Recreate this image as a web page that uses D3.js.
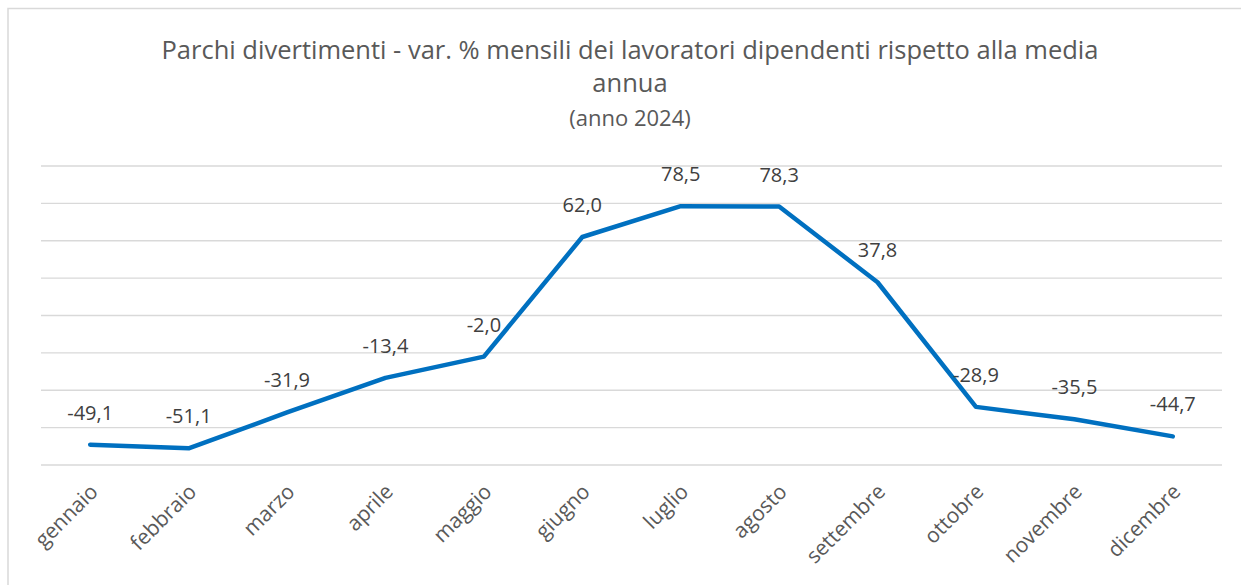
<!DOCTYPE html>
<html>
<head>
<meta charset="utf-8">
<script src="https://cdn.jsdelivr.net/npm/d3@7"></script>
<style>
  body { margin: 0; background: #fff; }
  svg { display: block; font-family: "Open Sans", "Liberation Sans", sans-serif; }
</style>
</head>
<body>
<div id="chart"></div>
<script>
// data
var mesi = ['gennaio', 'febbraio', 'marzo', 'aprile', 'maggio', 'giugno',
            'luglio', 'agosto', 'settembre', 'ottobre', 'novembre', 'dicembre'];
var variazioni = [-49.1, -51.1, -31.9, -13.4, -2.0, 62.0, 78.5, 78.3, 37.8, -28.9, -35.5, -44.7];
var gridTicks = [-60, -40, -20, 0, 20, 40, 60, 80, 100];
var titleLines = ['Parchi divertimenti - var. % mensili dei lavoratori dipendenti rispetto alla media', 'annua'];
var subtitle = '(anno 2024)';

var width = 1241, height = 585;
var plot = { left: 41, right: 1222, top: 166, bottom: 465 };
var textColor = '#595959';

var svg = d3.select('#chart')
  .append('svg')
  .attr('width', width)
  .attr('height', height);

// chart frame (runs off the right and bottom edges)
svg.append('rect')
  .attr('x', 8)
  .attr('y', 8.5)
  .attr('width', 1260)
  .attr('height', 600)
  .attr('fill', 'none')
  .attr('stroke', '#d9d9d9')
  .attr('stroke-width', 1.5);

var x = d3.scaleBand()
  .domain(mesi)
  .range([plot.left, plot.right]);

var y = d3.scaleLinear()
  .domain([-60, 100])
  .range([plot.bottom, plot.top]);

// horizontal gridlines
svg.append('g')
  .selectAll('line')
  .data(gridTicks)
  .enter()
  .append('line')
  .attr('x1', plot.left)
  .attr('x2', plot.right)
  .attr('y1', function (d) { return y(d); })
  .attr('y2', function (d) { return y(d); })
  .attr('stroke', '#d9d9d9')
  .attr('stroke-width', 1.3);

// title
var title = svg.append('text')
  .attr('text-anchor', 'middle')
  .attr('fill', textColor)
  .style('font-size', '25.5px');

titleLines.forEach(function (t, i) {
  title.append('tspan')
    .attr('x', 630)
    .attr('y', 59 + i * 33)
    .text(t);
});

svg.append('text')
  .attr('x', 630)
  .attr('y', 126)
  .attr('text-anchor', 'middle')
  .attr('fill', textColor)
  .style('font-size', '22px')
  .text(subtitle);

// category axis labels, rotated
var xAxis = d3.axisBottom(x).tickSize(0).tickPadding(0);
var gx = svg.append('g')
  .attr('transform', 'translate(0,' + plot.bottom + ')')
  .call(xAxis)
  .attr('font-family', null)
  .attr('font-size', null);
gx.select('.domain').remove();
gx.selectAll('text')
  .attr('fill', textColor)
  .style('font-size', '21px')
  .attr('text-anchor', 'end')
  .attr('dy', null)
  .attr('y', 0)
  .attr('transform', 'translate(9,28) rotate(-45)');

// line
var line = d3.line()
  .x(function (d, i) { return x(mesi[i]) + x.bandwidth() / 2; })
  .y(function (d) { return y(d); });

svg.append('path')
  .datum(variazioni)
  .attr('d', line)
  .attr('fill', 'none')
  .attr('stroke', '#0070c0')
  .attr('stroke-width', 4.5)
  .attr('stroke-linejoin', 'round')
  .attr('stroke-linecap', 'round');

// data labels, Italian decimal comma and plain hyphen minus
var fmt = function (v) { return d3.format('.1f')(v).replace('\u2212', '-').replace('.', ','); };

svg.append('g')
  .selectAll('text')
  .data(variazioni)
  .enter()
  .append('text')
  .attr('x', function (d, i) { return x(mesi[i]) + x.bandwidth() / 2; })
  .attr('y', function (d) { return y(d) - 25; })
  .attr('text-anchor', 'middle')
  .attr('fill', '#404040')
  .style('font-size', '20px')
  .text(fmt);
</script>
</body>
</html>
